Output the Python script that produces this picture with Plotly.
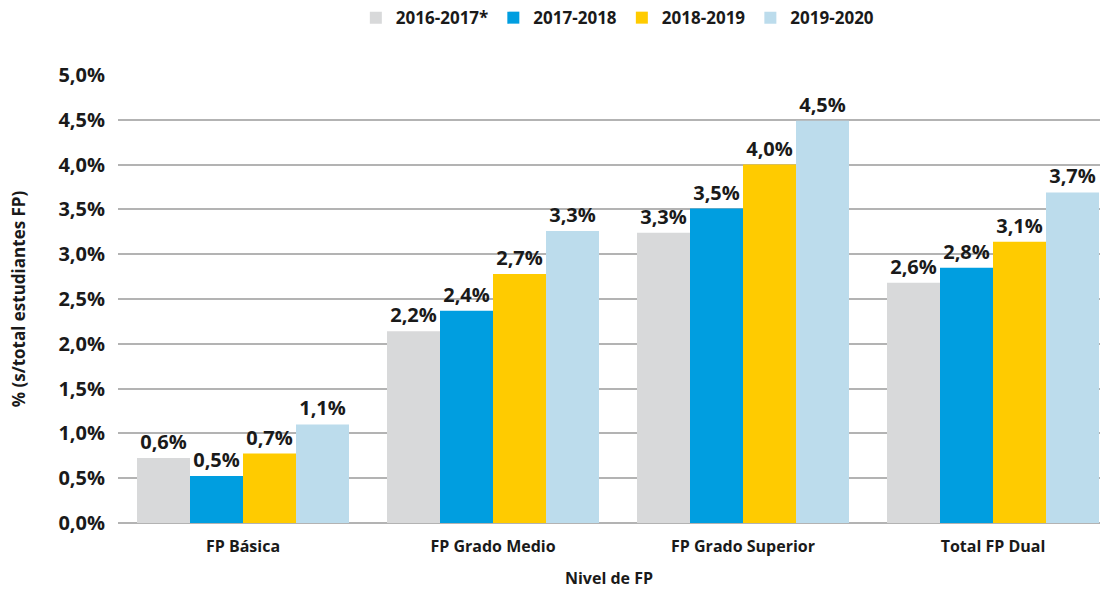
import plotly.graph_objects as go

categories = ["FP Básica", "FP Grado Medio", "FP Grado Superior", "Total FP Dual"]
series_names = ["2016-2017*", "2017-2018", "2018-2019", "2019-2020"]
colors = ["#d8d9da", "#009ee0", "#ffcb00", "#bcdcec"]

# bar heights as drawn
v_2016 = [0.725, 2.14, 3.24, 2.68]
v_2017 = [0.525, 2.37, 3.51, 2.85]
v_2018 = [0.775, 2.78, 4.00, 3.14]
v_2019 = [1.10, 3.26, 4.49, 3.69]
# printed labels
l_2016 = ["0,6%", "2,2%", "3,3%", "2,6%"]
l_2017 = ["0,5%", "2,4%", "3,5%", "2,8%"]
l_2018 = ["0,7%", "2,7%", "4,0%", "3,1%"]
l_2019 = ["1,1%", "3,3%", "4,5%", "3,7%"]

values = [v_2016, v_2017, v_2018, v_2019]
labels = [l_2016, l_2017, l_2018, l_2019]

FONT = "Open Sans, Liberation Sans, DejaVu Sans"
TXT = "#1a1a1a"

fig = go.Figure()
for name, col, vals, labs in zip(series_names, colors, values, labels):
    fig.add_trace(go.Bar(
        name=name, x=categories, y=vals, marker_color=col,
        marker_line_width=0,
        text=labs, textposition="outside", cliponaxis=False,
        textfont=dict(family=FONT, size=20, color=TXT, weight="bold"),
        hoverinfo="skip",
    ))

fig.update_layout(
    width=1107, height=593,
    margin=dict(l=118, r=7, t=75, b=70, autoexpand=False),
    paper_bgcolor="white", plot_bgcolor="white",
    barmode="group", bargap=0.152, bargroupgap=0,
    separators=",.",
    font=dict(family=FONT, color=TXT, weight="bold"),
    legend=dict(orientation="h", x=0.509, xanchor="center", y=1.127, yanchor="middle",
                font=dict(size=17, family=FONT, color=TXT, weight="bold"),
                traceorder="normal"),
    uniformtext=dict(mode=False),
)
fig.update_xaxes(
    range=[-0.5, 3.428], showgrid=False, showline=False, ticks="",
    automargin=False, ticklabelstandoff=12,
    tickfont=dict(size=16, family=FONT, color=TXT, weight="bold"),
    title=dict(text="Nivel de FP", font=dict(size=16, family=FONT, color=TXT, weight="bold"), standoff=16),
)
fig.update_yaxes(
    range=[0, 5.0], dtick=0.5, tickformat=".1f", ticksuffix="%",
    showgrid=True, gridcolor="#b3b3b3", gridwidth=2,
    zeroline=True, zerolinecolor="#b3b3b3", zerolinewidth=2,
    showline=False, ticks="", ticklabelstandoff=12, automargin=False,
    tickfont=dict(size=20, family=FONT, color=TXT, weight="bold"),
    title=dict(text="% (s/total estudiantes FP)", font=dict(size=17, family=FONT, color=TXT, weight="bold"), standoff=28),
)

fig.write_html("out.html", config={"displayModeBar": False},
               post_script="document.body.style.margin='0';")
